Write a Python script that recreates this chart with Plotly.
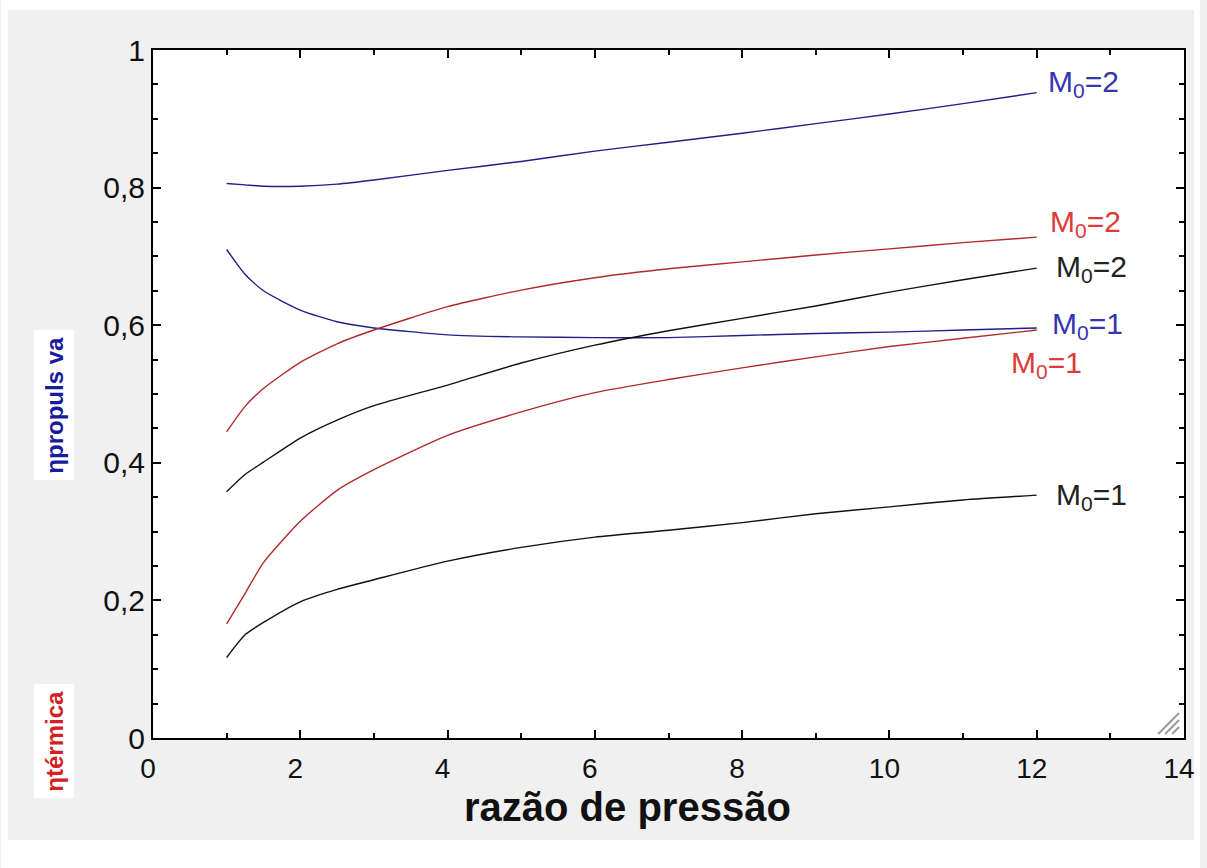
import plotly.graph_objects as go

# ---------------- data ----------------
pressure_ratio = [1, 1.25, 1.5, 2, 2.5, 3, 4, 5, 6, 7, 8, 9, 10, 11, 12]

eta_prop_M2 = [0.806, 0.804, 0.802, 0.802, 0.805, 0.811, 0.825, 0.838, 0.853, 0.866,
               0.879, 0.893, 0.907, 0.922, 0.938]
eta_prop_M1 = [0.710, 0.674, 0.650, 0.622, 0.605, 0.596, 0.586, 0.583, 0.582, 0.582,
               0.585, 0.588, 0.590, 0.593, 0.596]
eta_term_red_M2 = [0.445, 0.482, 0.508, 0.546, 0.573, 0.593, 0.627, 0.651, 0.669, 0.682,
                   0.692, 0.702, 0.711, 0.720, 0.728]
eta_term_blk_M2 = [0.358, 0.383, 0.401, 0.436, 0.462, 0.483, 0.513, 0.545, 0.571, 0.592,
                   0.610, 0.628, 0.648, 0.666, 0.683]
eta_term_red_M1 = [0.166, 0.210, 0.255, 0.315, 0.360, 0.390, 0.440, 0.474, 0.502, 0.521,
                   0.538, 0.554, 0.569, 0.581, 0.593]
eta_term_blk_M1 = [0.117, 0.150, 0.168, 0.198, 0.216, 0.230, 0.257, 0.277, 0.292, 0.302,
                   0.313, 0.326, 0.336, 0.346, 0.353]

x_ticks = [0, 2, 4, 6, 8, 10, 12, 14]
x_tick_text = ["0", "2", "4", "6", "8", "10", "12", "14"]
y_ticks = [0, 0.2, 0.4, 0.6, 0.8, 1]
y_tick_text = ["0", "0,2", "0,4", "0,6", "0,8", "1"]

label_text = ["M<sub>0</sub>=2", "M<sub>0</sub>=1", "M<sub>0</sub>=2",
              "M<sub>0</sub>=2", "M<sub>0</sub>=1", "M<sub>0</sub>=1"]

# ---------------- styling ----------------
BLUE_LINE = "#1f1f86"
RED_LINE = "#b02a2a"
BLACK_LINE = "#111111"
BLUE_TXT = "#3535b0"
RED_TXT = "#dd3b3b"
BLACK_TXT = "#222222"
FONT = "Liberation Sans, Arial, sans-serif"

W, H = 1207, 868
L, R, T, B = 153, 16, 50, 130
PW, PH = W - L - R, H - T - B

def px2paper_x(px):
    return (px - L) / PW

def px2paper_y(py):
    return (H - B - py) / PH

series = [
    (eta_prop_M2, BLUE_LINE),
    (eta_prop_M1, BLUE_LINE),
    (eta_term_red_M2, RED_LINE),
    (eta_term_blk_M2, BLACK_LINE),
    (eta_term_red_M1, RED_LINE),
    (eta_term_blk_M1, BLACK_LINE),
]

fig = go.Figure()
for ys, col in series:
    fig.add_trace(go.Scatter(x=pressure_ratio, y=ys, mode="lines",
                             line=dict(color=col, width=1.4, shape="spline", smoothing=0.6),
                             showlegend=False, hoverinfo="skip"))

# right-hand labels (pixel positions of left edge / vertical centre)
label_specs = [
    (1052, 84, BLUE_TXT, label_text[0]),
    (1056, 325, BLUE_TXT, label_text[1]),
    (1054, 223, RED_TXT, label_text[2]),
    (1060, 268, BLACK_TXT, label_text[3]),
    (1015, 364, RED_TXT, label_text[4]),
    (1060, 497, BLACK_TXT, label_text[5]),
]
annotations = []
for px, py, col, txt in label_specs:
    annotations.append(dict(x=px2paper_x(px), y=px2paper_y(py), xref="paper", yref="paper",
                            text=txt, showarrow=False, xanchor="left", yanchor="middle",
                            font=dict(family=FONT, size=30, color=col)))

# y-axis "titles"
annotations.append(dict(x=px2paper_x(54), y=px2paper_y(405), xref="paper", yref="paper",
                        text="<b>ηpropuls va</b>", textangle=-90, showarrow=False,
                        xanchor="center", yanchor="middle", bgcolor="white", borderpad=6,
                        font=dict(family=FONT, size=24, color="#1a1aa0")))
annotations.append(dict(x=px2paper_x(54), y=px2paper_y(741), xref="paper", yref="paper",
                        text="<b>ηtérmica</b>", textangle=-90, showarrow=False,
                        xanchor="center", yanchor="middle", bgcolor="white", borderpad=6,
                        font=dict(family=FONT, size=24, color="#d42020")))
# x-axis title
annotations.append(dict(x=px2paper_x(631), y=px2paper_y(807), xref="paper", yref="paper",
                        text="<b>razão de pressão</b>", showarrow=False,
                        xanchor="center", yanchor="middle",
                        font=dict(family=FONT, size=40, color="#111111")))

shapes = []
# white outer strips (the gray panel sits inside a thin white border)
for x0, x1, y0, y1 in [(0, W, 0, 10), (0, 7, 0, H), (1201, W, 0, H), (0, W, 840, H)]:
    shapes.append(dict(type="rect", xref="paper", yref="paper",
                       x0=px2paper_x(x0), x1=px2paper_x(x1),
                       y0=px2paper_y(y1), y1=px2paper_y(y0),
                       fillcolor="white", line=dict(width=0), layer="below"))
# resize grip in the corner
for (ax, ay, bx, by) in [(1165, 734, 1186, 713), (1172, 734, 1186, 720), (1179, 734, 1186, 727)]:
    shapes.append(dict(type="line", xref="paper", yref="paper",
                       x0=px2paper_x(ax), y0=px2paper_y(ay), x1=px2paper_x(bx), y1=px2paper_y(by),
                       line=dict(color="#9a9a9a", width=2)))

axis_common = dict(showline=True, linecolor="black", linewidth=2, mirror="ticks",
                   ticks="inside", ticklen=8, tickwidth=1.5, tickcolor="black",
                   showgrid=False, zeroline=False, ticklabeloverflow="allow")

fig.update_layout(
    width=W, height=H, autosize=False,
    margin=dict(l=L, r=R, t=T, b=B, pad=0),
    paper_bgcolor="#f0f0f0", plot_bgcolor="white",
    xaxis=dict(range=[0, 14], tickvals=x_ticks, ticktext=x_tick_text,
               minor=dict(ticks="inside", ticklen=5, dtick=1, tickcolor="black", tickwidth=1.5),
               ticklabelstandoff=4, ticklabelshift=-5,
               tickfont=dict(family=FONT, size=28, color="#111111"),
               **axis_common),
    yaxis=dict(range=[0, 1], tickvals=y_ticks, ticktext=y_tick_text,
               minor=dict(ticks="inside", ticklen=5, dtick=0.05, tickcolor="black", tickwidth=1.5),
               ticklabelstandoff=0, tickfont=dict(family=FONT, size=30, color="#111111"),
               **axis_common),
    annotations=annotations, shapes=shapes,
)

clip_js = ("var g=document.getElementById('{plot_id}');"
           "g.style.overflow='hidden';"
           "document.documentElement.style.overflow='hidden';"
           "document.body.style.overflow='hidden';")

fig.write_html("out.html", post_script=clip_js)
